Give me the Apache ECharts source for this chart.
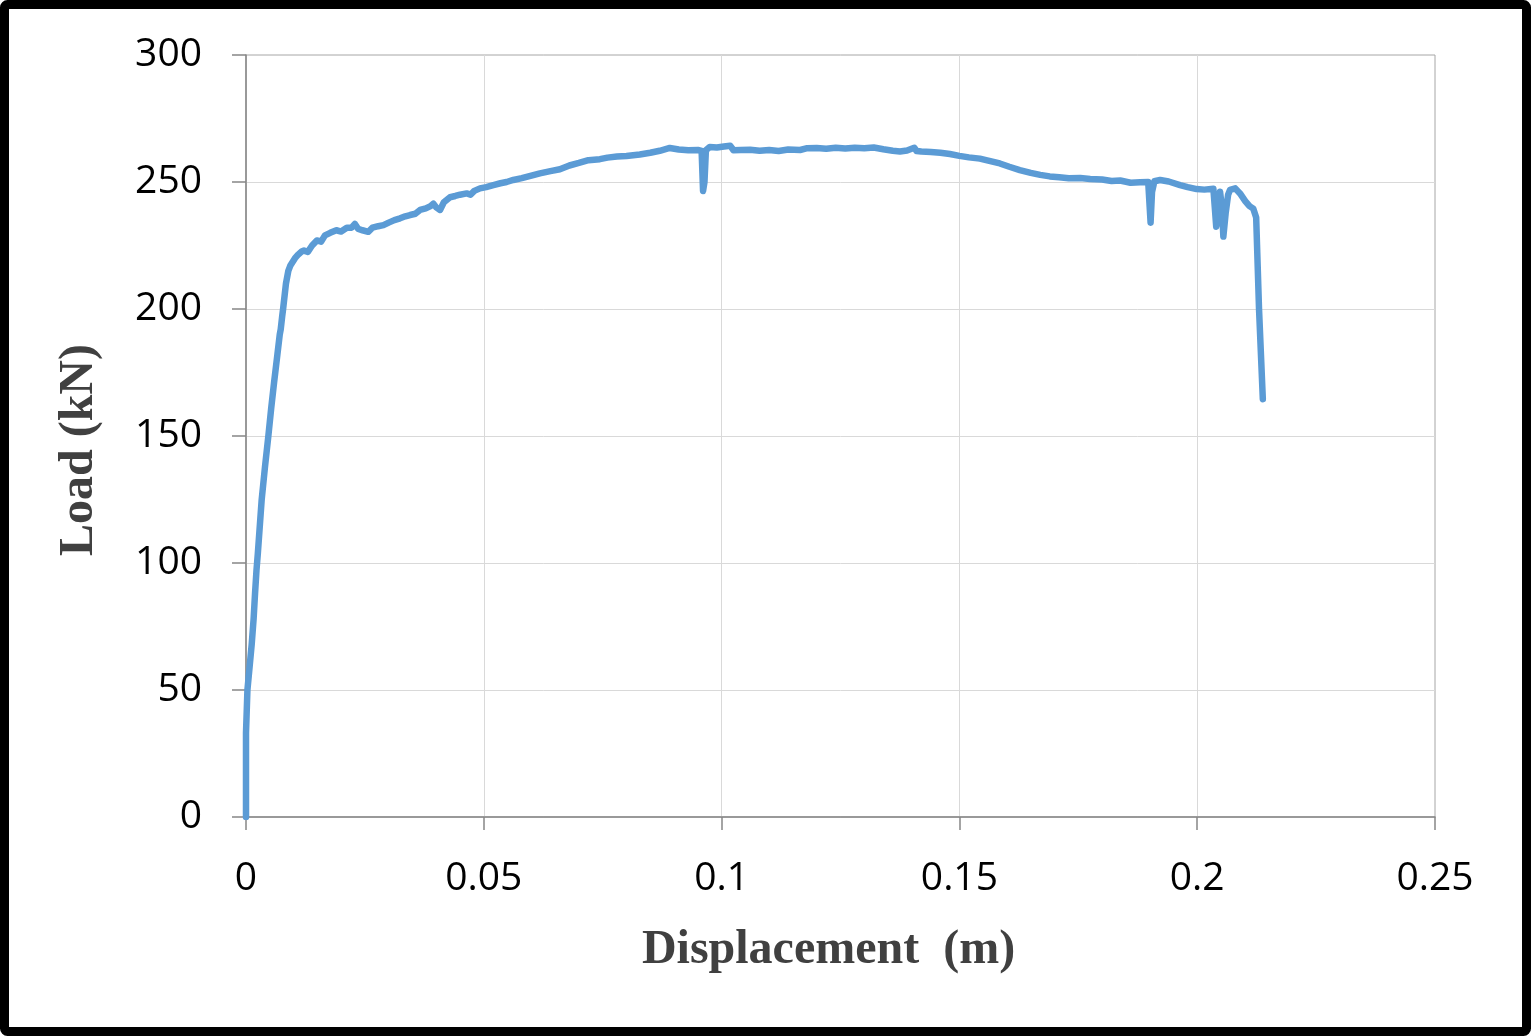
<!DOCTYPE html>
<html>
<head>
<meta charset="utf-8">
<script src="https://cdn.jsdelivr.net/npm/echarts@6/dist/echarts.min.js"></script>
<style>
html,body{margin:0;padding:0;background:#fff;}
#chart{width:1531px;height:1036px;}
</style>
</head>
<body>
<div id="chart"></div>
<script>
var xTicks = [0, 0.05, 0.1, 0.15, 0.2, 0.25];
var yTicks = [0, 50, 100, 150, 200, 250, 300];
var displacement = [
0,0.0000,0.0003,0.0008,0.0012,0.0016,0.0019,0.0022,0.0025,0.0033,0.0040,0.0047,0.0053,0.0059,0.0066,0.0071,0.0073,0.0076,0.0078,0.0084,
0.0089,0.0093,0.0097,0.0103,0.0110,0.0117,0.0122,0.0130,0.0139,0.0149,0.0158,0.0166,0.0177,0.0190,0.0200,0.0212,0.0222,0.0229,0.0236,0.0245,0.0257,
0.0266,0.0278,0.0289,0.0300,0.0312,0.0324,0.0335,0.0345,0.0356,0.0366,0.0378,0.0388,0.0394,0.0400,0.0408,0.0416,0.0429,0.0440,0.0450,0.0464,
0.0472,0.0480,0.0492,0.0505,0.0520,0.0535,0.0548,0.0562,0.0580,0.0600,0.0618,0.0640,0.0660,0.0680,0.0700,0.0720,0.0744,0.0760,0.0780,0.0800,
0.0828,0.0850,0.0870,0.0891,0.0910,0.0930,0.0950,0.0958,0.0961,0.0964,0.0967,0.0975,0.0990,0.1005,0.1018,0.1025,0.1040,0.1060,0.1080,0.1100,
0.1120,0.1140,0.1165,0.1180,0.1200,0.1220,0.1240,0.1260,0.1280,0.1300,0.1320,0.1340,0.1360,0.1375,0.1390,0.1405,0.1410,0.1420,0.1440,0.1460,
0.1480,0.1500,0.1520,0.1543,0.1565,0.1585,0.1605,0.1627,0.1650,0.1670,0.1690,0.1710,0.1730,0.1754,0.1775,0.1800,0.1820,0.1838,0.1860,0.1880,
0.1897,0.1901,0.1902,0.1905,0.1910,0.1922,0.1940,0.1964,0.1980,0.1999,0.2015,0.2034,0.2037,0.2040,0.2044,0.2048,0.2052,0.2055,0.2060,0.2065,
0.2069,0.2080,0.2090,0.2101,0.2110,0.2118,0.2124,0.2130,0.2138
];
var load = [
0,33,50,60,68,78,88,97,104,125,138,150,161,171,182,190,192,197,200,210,
215,217,216.5,220,221.5,222.6,223,222.5,225,227,226.5,229,230,231,230.5,232,232,233.5,231.5,231,230.4,
232,232.6,233,234,235,235.7,236.5,237,237.5,239,239.6,240.5,241.5,240,239,242,244,244.5,245,245.5,
245,246.5,247.5,248,248.8,249.5,250,250.8,251.5,252.5,253.4,254.3,255,256.5,257.5,258.6,259,259.6,260,260.2,
260.8,261.5,262.3,263.4,262.8,262.5,262.6,262.2,246.5,250,262.5,263.8,263.6,264,264.3,262.5,262.6,262.7,262.3,262.6,
262.2,262.8,262.6,263.3,263.4,263.1,263.5,263.2,263.5,263.3,263.6,262.9,262.3,262.0,262.4,263.5,262.2,262.0,261.8,261.5,
261.0,260.3,259.7,259.2,258.2,257.3,256,254.7,253.6,252.8,252.2,251.9,251.5,251.6,251.2,251.0,250.4,250.6,249.7,249.9,
250.0,249.5,234,246,250.3,250.8,250.2,248.8,248.0,247.2,247.0,247.3,240,232.4,240,246.2,240,228.5,238,245,
246.9,247.5,245.5,242.5,240.5,239.5,236,200,164.5
];

var points = displacement.map(function (d, i) { return [d, load[i]]; });

var chart = echarts.init(document.getElementById('chart'), null, {renderer: 'canvas'});
var labelFont = {color: '#000', fontFamily: 'Open Sans', fontSize: 39};
var titleFont = {color: '#404040', fontFamily: 'Liberation Serif', fontWeight: 'bold', fontSize: 48};
chart.setOption({
  animation: false,
  backgroundColor: '#fff',
  grid: {left: 246, top: 55, right: 96, bottom: 219, show: true, borderColor: '#a6a6a6', borderWidth: 1},
  xAxis: {
    type: 'value', min: xTicks[0], max: xTicks[xTicks.length - 1], interval: 0.05,
    name: 'Displacement  (m)', nameLocation: 'middle', nameGap: 110,
    nameTextStyle: Object.assign({padding: [0, 24, 0, 0]}, titleFont),
    axisLine: {show: true, lineStyle: {color: '#868686', width: 1.5}},
    axisTick: {show: true, length: 13, lineStyle: {color: '#868686', width: 1.5}},
    axisLabel: Object.assign({margin: 42, formatter: function (v) { return String(+v.toFixed(2)); }}, labelFont),
    splitLine: {show: true, showMinLine: false, showMaxLine: false, lineStyle: {color: '#d9d9d9', width: 1}}
  },
  yAxis: {
    type: 'value', min: yTicks[0], max: yTicks[yTicks.length - 1], interval: 50,
    name: 'Load (kN)', nameLocation: 'middle', nameGap: 142,
    nameTextStyle: Object.assign({padding: [0, 28, 0, 0]}, titleFont),
    axisLine: {show: true, lineStyle: {color: '#868686', width: 1.5}},
    axisTick: {show: true, length: 14, lineStyle: {color: '#868686', width: 1.5}},
    axisLabel: Object.assign({margin: 44}, labelFont),
    splitLine: {show: true, showMinLine: false, showMaxLine: false, lineStyle: {color: '#d9d9d9', width: 1}}
  },
  series: [{
    type: 'line', data: points, showSymbol: false, symbol: 'none',
    lineStyle: {color: '#5B9BD5', width: 6.5, join: 'round', cap: 'round'},
    z: 3
  }],
  graphic: [{
    type: 'rect', silent: true, z: 100,
    shape: {x: 4.5, y: 4.5, width: 1522, height: 1027, r: 3},
    style: {fill: null, stroke: '#000', lineWidth: 9}
  }]
});
</script>
</body>
</html>
